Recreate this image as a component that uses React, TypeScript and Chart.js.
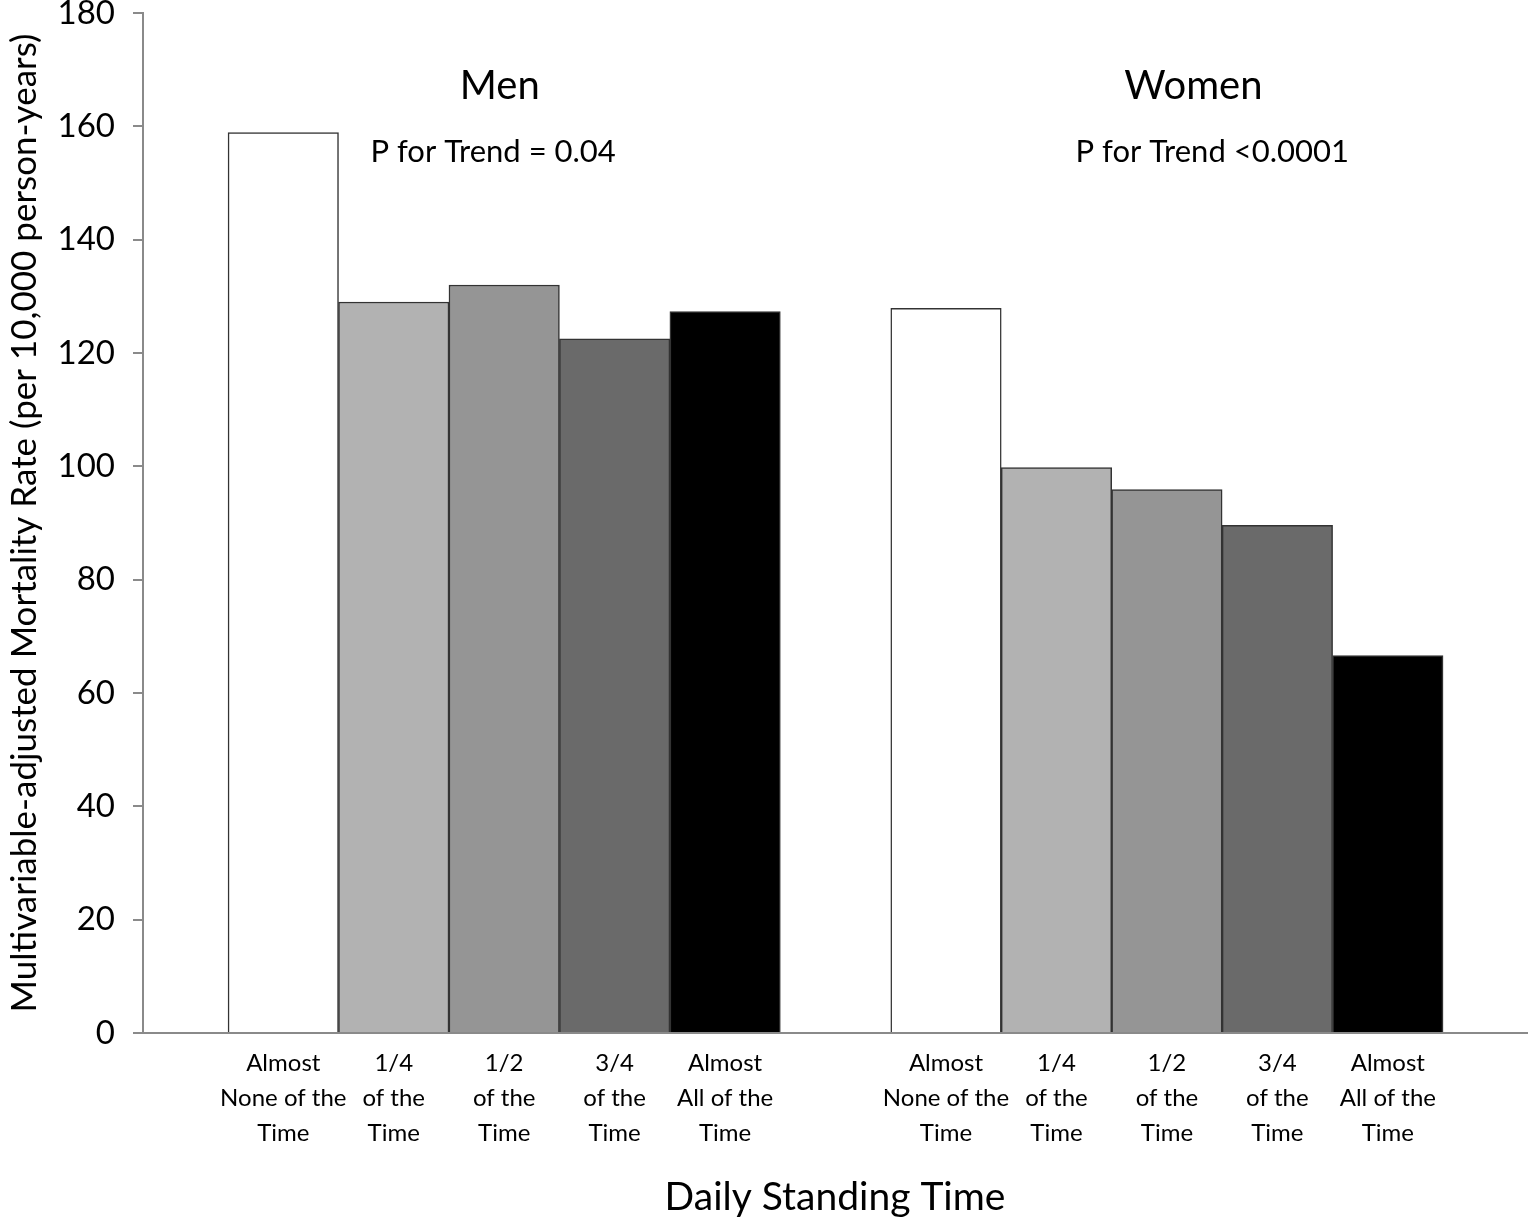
import React, { useEffect, useRef } from "react";
import { Chart, registerables } from "chart.js";

Chart.register(...registerables);

const menLabels: string[][] = [
  ["Almost", "None of the", "Time"],
  ["1/4", "of the", "Time"],
  ["1/2", "of the", "Time"],
  ["3/4", "of the", "Time"],
  ["Almost", "All of the", "Time"],
];
const womenLabels: string[][] = [
  ["Almost", "None of the", "Time"],
  ["1/4", "of the", "Time"],
  ["1/2", "of the", "Time"],
  ["3/4", "of the", "Time"],
  ["Almost", "All of the", "Time"],
];
const menValues = [158.9, 129.0, 132.0, 122.5, 127.3];
const womenValues = [127.9, 99.8, 95.9, 89.6, 66.6];
const barColors = ["#ffffff", "#b2b2b2", "#959595", "#6a6a6a", "#000000"];
const yTicks = [0, 20, 40, 60, 80, 100, 120, 140, 160, 180];

const FONT = "Lato, 'Open Sans', sans-serif";

export default function App() {
  const ref = useRef<HTMLCanvasElement | null>(null);

  useEffect(() => {
    const canvas = ref.current;
    if (!canvas) return;

    const womenOffset = menValues.length + 1;
    const points = [
      ...menValues.map((v, i) => ({ x: i, y: v })),
      ...womenValues.map((v, i) => ({ x: i + womenOffset, y: v })),
    ];
    const colors = [...barColors, ...barColors];
    const labelMap = new Map<number, string[]>();
    menLabels.forEach((l, i) => labelMap.set(i, l));
    womenLabels.forEach((l, i) => labelMap.set(i + womenOffset, l));

    const annotations = [
      { text: "Men", x: 1.96, y: 167.1, size: 40 },
      { text: "P for Trend = 0.04", x: 1.9, y: 155.4, size: 31 },
      { text: "Women", x: 8.24, y: 167.1, size: 40 },
      { text: "P for Trend <0.0001", x: 8.41, y: 155.4, size: 31 },
    ];

    const textPlugin = {
      id: "groupText",
      afterDraw(chart: any) {
        const { ctx, scales } = chart;
        ctx.save();
        ctx.fillStyle = "#000";
        ctx.textAlign = "center";
        ctx.textBaseline = "middle";
        for (const a of annotations) {
          ctx.font = `${a.size}px ${FONT}`;
          ctx.fillText(a.text, scales.x.getPixelForValue(a.x), scales.y.getPixelForValue(a.y));
        }
        ctx.restore();
      },
    };

    const chart = new Chart(canvas, {
      type: "bar",
      data: {
        datasets: [
          {
            data: points as any,
            backgroundColor: colors,
            borderColor: "#333333",
            borderWidth: 1.5,
            barPercentage: 1,
            categoryPercentage: 1,
          },
        ],
      },
      options: {
        animation: false,
        responsive: false,
        maintainAspectRatio: false,
        layout: { padding: { top: 13, right: 2, left: 0, bottom: 0 } },
        plugins: {
          legend: { display: false },
          tooltip: { enabled: false },
        },
        scales: {
          x: {
            type: "linear",
            min: -1.27,
            max: 11.26,
            offset: false,
            grid: { display: false, offset: false },
            border: { display: true, color: "#8a8a8a", width: 2 },
            afterBuildTicks: (s: any) => {
              s.ticks = Array.from(labelMap.keys()).map((v) => ({ value: v }));
            },
            afterFit: (s: any) => {
              s.height = 190;
              s.paddingLeft = 0;
              s.paddingRight = 0;
            },
            ticks: {
              autoSkip: false,
              maxRotation: 0,
              minRotation: 0,
              padding: 5,
              color: "#000",
              font: { family: FONT, size: 24, lineHeight: 1.45 },
              callback: (v: any) => labelMap.get(Number(v)) ?? "",
            },
            title: {
              display: true,
              text: "Daily Standing Time",
              color: "#000",
              font: { family: FONT, size: 39 },
              padding: { top: 0, bottom: 2 },
            },
          },
          y: {
            min: 0,
            max: 180,
            afterBuildTicks: (s: any) => {
              s.ticks = yTicks.map((v) => ({ value: v }));
            },
            afterFit: (s: any) => {
              s.width = 143;
              s.paddingTop = 0;
              s.paddingBottom = 0;
            },
            grid: {
              display: true,
              drawOnChartArea: false,
              drawTicks: true,
              tickLength: 10,
              color: "#8a8a8a",
              lineWidth: 2,
            },
            border: { display: true, color: "#8a8a8a", width: 2 },
            ticks: {
              padding: 18,
              color: "#000",
              font: { family: FONT, size: 33 },
            },
            title: {
              display: true,
              text: "Multivariable-adjusted Mortality Rate (per 10,000 person-years)",
              color: "#000",
              font: { family: FONT, size: 35 },
              padding: { top: 4, bottom: 0 },
            },
          },
        },
      },
      plugins: [textPlugin],
    });

    return () => chart.destroy();
  }, []);

  return (
    <div style={{ position: "absolute", left: 0, top: 0, width: 1529, height: 1223, background: "#fff" }}>
      <canvas ref={ref} width={1529} height={1223} style={{ display: "block" }} />
    </div>
  );
}
